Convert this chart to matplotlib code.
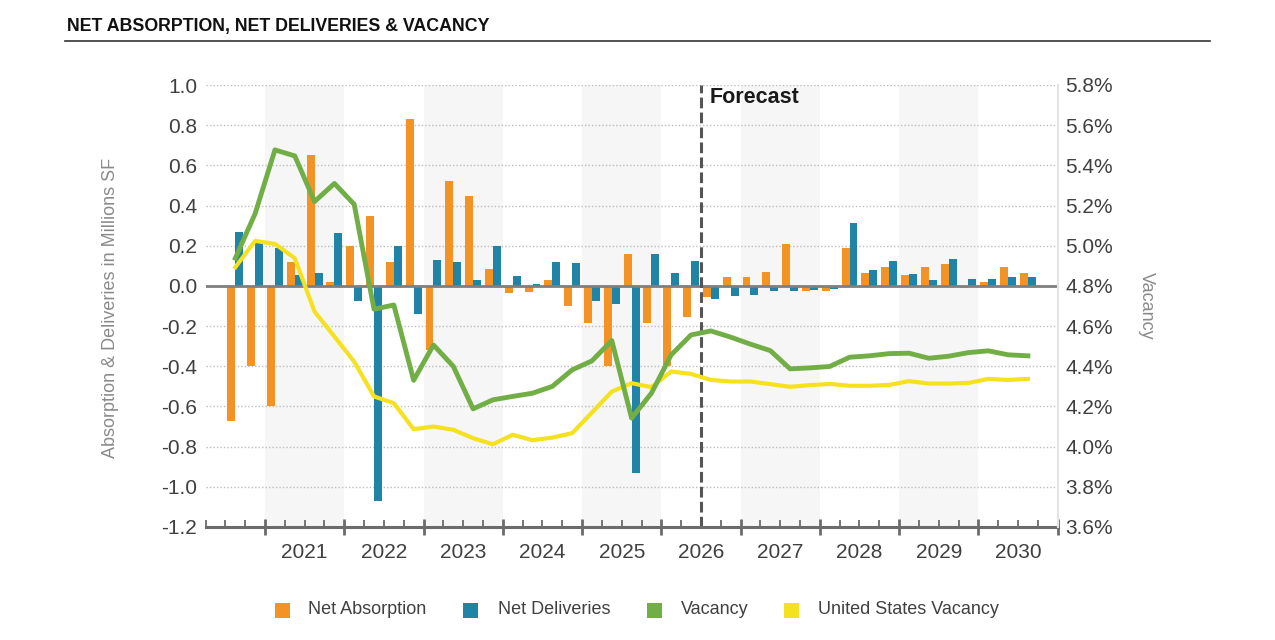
import matplotlib
matplotlib.use("Agg")
import matplotlib.pyplot as plt
import matplotlib.transforms as mtransforms
from matplotlib.patches import Rectangle
from matplotlib.ticker import FixedLocator
import numpy as np

plt.rcParams['font.family'] = ['Liberation Sans', 'DejaVu Sans']

# ---------------- data ----------------
years = [2021, 2022, 2023, 2024, 2025, 2026, 2027, 2028, 2029, 2030]
quarters = [f"{y} Q{q}" for y in range(2020, 2031) for q in range(1, 5)][2:-1]  # 2020 Q3 .. 2030 Q3

net_absorption = [-0.67, -0.40, -0.60, 0.12, 0.65, 0.02, 0.20, 0.35, 0.12, 0.83,
                  -0.32, 0.52, 0.45, 0.085, -0.033, -0.03, 0.027, -0.10, -0.187, -0.40,
                  0.16, -0.185, -0.40, -0.157, -0.053, 0.045, 0.045, 0.068, 0.209, -0.027,
                  -0.023, 0.187, 0.065, 0.095, 0.055, 0.095, 0.11, -0.008, 0.018, 0.093,
                  0.063]
net_deliveries = [0.27, 0.225, 0.19, 0.055, 0.063, 0.264, -0.073, -1.073, 0.199, -0.141,
                  0.129, 0.121, 0.027, 0.20, 0.051, 0.01, 0.12, 0.115, -0.075, -0.088,
                  -0.93, 0.157, 0.063, 0.125, -0.063, -0.051, -0.046, -0.027, -0.023, -0.018,
                  -0.015, 0.315, 0.078, 0.124, 0.06, 0.028, 0.133, 0.035, 0.035, 0.043,
                  0.043]
vacancy = [4.938, 5.16, 5.477, 5.447, 5.22, 5.31, 5.206, 4.684, 4.705, 4.33,
           4.506, 4.40, 4.188, 4.233, 4.25, 4.266, 4.30, 4.382, 4.427, 4.528,
           4.142, 4.266, 4.457, 4.556, 4.576, 4.545, 4.51, 4.478, 4.387, 4.392,
           4.399, 4.445, 4.452, 4.463, 4.465, 4.44, 4.45, 4.468, 4.477, 4.457,
           4.452]
us_vacancy = [4.893, 5.024, 5.009, 4.938, 4.672, 4.548, 4.423, 4.25, 4.216, 4.087,
              4.10, 4.084, 4.042, 4.012, 4.059, 4.032, 4.045, 4.067, 4.17, 4.274,
              4.316, 4.296, 4.374, 4.362, 4.332, 4.324, 4.324, 4.311, 4.298, 4.306,
              4.312, 4.303, 4.303, 4.307, 4.326, 4.314, 4.314, 4.317, 4.337, 4.332,
              4.337]
left_ticks = [-1.2, -1.0, -0.8, -0.6, -0.4, -0.2, 0.0, 0.2, 0.4, 0.6, 0.8, 1.0]
right_ticks = [3.6, 3.8, 4.0, 4.2, 4.4, 4.6, 4.8, 5.0, 5.2, 5.4, 5.6, 5.8]
forecast_start = "2026 Q3"

# ---------------- styling ----------------
C_ABS = '#F39325'
C_DEL = '#2183A6'
C_VAC = '#72AE46'
C_US = '#F5E11E'
TXT = '#404040'
LBL = '#8A8A8A'

W, H = 1275, 640
fig = plt.figure(figsize=(W / 100, H / 100), dpi=100)
ax = fig.add_axes([205.6 / W, 1 - 527 / H, (1057.6 - 205.6) / W, (527 - 85) / H])

# slot positions: axis spans 2020 Q2 .. 2030 Q4 (43 slots)
n = len(quarters)
x = np.arange(n) + 1.5
ax.set_xlim(0, 43)
ax.set_ylim(-1.2, 1.0)

# alternating year bands
for k, yr in enumerate(years):
    if k % 2 == 0:
        x0 = 3 + 4 * k
        ax.axvspan(x0, x0 + 4, color='#F6F6F6', zorder=0, lw=0)

# gridlines
for t in left_ticks:
    if t not in (0.0, -1.2):
        ax.axhline(t, color='#BDBDBD', lw=1, linestyle=(0, (1, 1.5)), zorder=1)

bw = 0.4
ax.bar(x - bw / 2, net_absorption, width=bw, color=C_ABS, zorder=2, lw=0)
ax.bar(x + bw / 2, net_deliveries, width=bw, color=C_DEL, zorder=2, lw=0)
ax.axhline(0, color='#7F7F7F', lw=2, zorder=3)

# forecast line
fx = quarters.index(forecast_start) + 1
ax.axvline(fx, color='#555555', lw=2.2, linestyle=(0, (3.5, 1.4)), zorder=4)
ax.text(fx + 0.42, 0.94, 'Forecast', fontsize=15.5, fontweight='bold', color='#1a1a1a',
        va='center', ha='left', zorder=5)

# axes styling
for s in ['top', 'left', 'right']:
    ax.spines[s].set_visible(False)
ax.spines['bottom'].set_color('#6b6b6b')
ax.spines['bottom'].set_linewidth(2.2)
ax.spines['bottom'].set_zorder(6)

major = [3 + 4 * k for k in range(11)]
minor = [i for i in range(44) if i not in major]
ax.xaxis.set_major_locator(FixedLocator(major))
ax.xaxis.set_minor_locator(FixedLocator(minor))
ax.tick_params(axis='x', which='major', direction='inout', length=11.5, width=2, color='#6b6b6b', labelbottom=False)
ax.tick_params(axis='x', which='minor', direction='in', length=5, width=1.3, color='#6b6b6b', labelbottom=False)

ax.set_yticks(left_ticks)
ax.set_yticklabels([f"{t:.1f}" for t in left_ticks])
ax.tick_params(axis='y', length=0, pad=6, labelsize=15, labelcolor=TXT)
ax.set_ylabel('Absorption & Deliveries in Millions SF', fontsize=13, color=LBL, labelpad=0)
ax.yaxis.set_label_coords((119 - 205.6) / (1057.6 - 205.6), (527 - 308) / 442)

trans = mtransforms.blended_transform_factory(ax.transData, ax.transAxes)
for k, yr in enumerate(years):
    ax.text(5 + 4 * k, -25 / 442, str(yr), transform=trans, ha='center', va='center',
            fontsize=15, color=TXT)

# right axis
ax2 = ax.twinx()
ax2.set_ylim(3.6, 5.8)
ax2.plot(x, us_vacancy, color=C_US, lw=3.0, zorder=3, solid_joinstyle='round')
ax2.plot(x, vacancy, color=C_VAC, lw=3.5, zorder=4, solid_joinstyle='round')
for s in ['top', 'left', 'bottom']:
    ax2.spines[s].set_visible(False)
ax2.spines['right'].set_color('#E4E4E4')
ax2.spines['right'].set_linewidth(1.5)
ax2.set_yticks(right_ticks)
ax2.set_yticklabels([f"{t:.1f}%" for t in right_ticks])
ax2.tick_params(axis='y', length=0, pad=5.5, labelsize=15, labelcolor=TXT)
ax2.set_ylabel('Vacancy', fontsize=13, color=LBL, rotation=270)
ax2.yaxis.set_label_coords((1155 - 205.6) / (1057.6 - 205.6), (527 - 306) / 442)

# title
fig.text(67 / W, 1 - 27 / H, 'NET ABSORPTION, NET DELIVERIES & VACANCY', fontsize=12.8,
         fontweight='bold', color='#111111', ha='left', va='center')
fig.add_artist(plt.Line2D([65 / W, 1210 / W], [1 - 41 / H, 1 - 41 / H], color='#333333', lw=1.2,
                          transform=fig.transFigure))

# legend
legend_items = [('Net Absorption', C_ABS, 282.5, 308.5),
                ('Net Deliveries', C_DEL, 470.5, 497.5),
                ('Vacancy', C_VAC, 654.5, 680.5),
                ('United States Vacancy', C_US, 792, 817.5)]
for label, col, sx, tx in legend_items:
    fig.add_artist(Rectangle(((sx - 7.5) / W, 1 - 618 / H), 15 / W, 15 / H, color=col,
                             transform=fig.transFigure, lw=0))
    fig.text(tx / W, 1 - 610 / H, label, fontsize=13, color=TXT, ha='left', va='center')

fig.savefig('out.png', dpi=100)
